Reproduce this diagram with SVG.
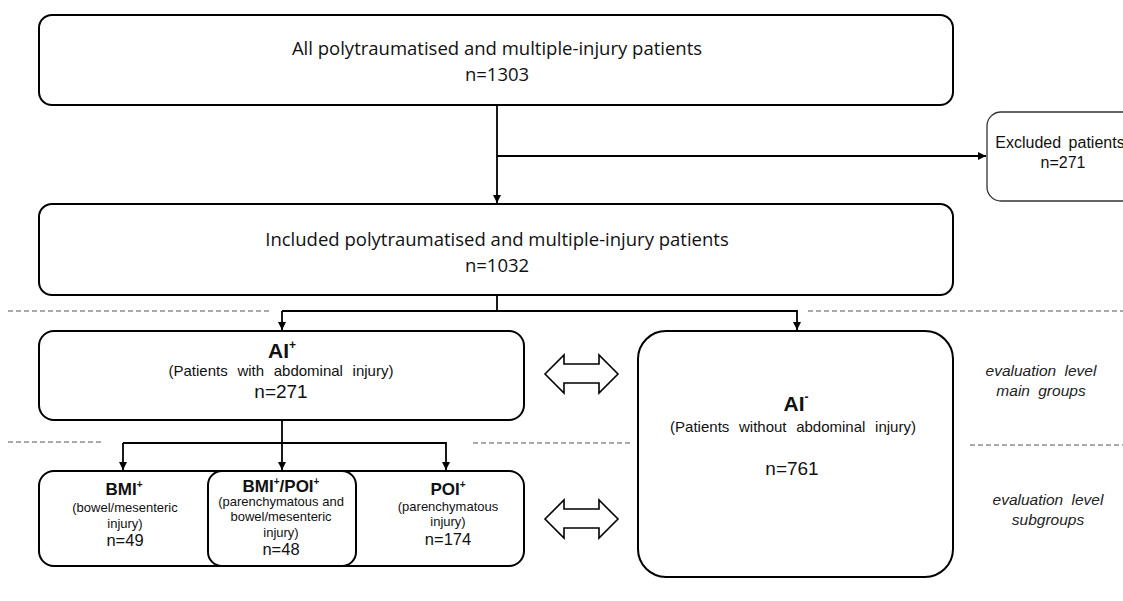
<svg xmlns="http://www.w3.org/2000/svg" width="1123" height="601" viewBox="0 0 1123 601">
<style>
.box{fill:#fff;stroke:#000;stroke-width:2}
.exbox{fill:#fff;stroke:#333;stroke-width:1.3}
.conn{fill:none;stroke:#000;stroke-width:1.8}
.dash{fill:none;stroke:#555;stroke-width:1.2;stroke-dasharray:5 3}
.dbl{fill:#fff;stroke:#000;stroke-width:1.6;stroke-linejoin:miter}
.cal{font-family:"Open Sans","Noto Sans",sans-serif;font-size:18.5px;fill:#111;text-anchor:middle}
.ar{font-family:"Liberation Sans",Arial,sans-serif;fill:#111;text-anchor:middle}
.big{font-size:19px}
.bold{font-weight:bold}
.sub{font-size:15px;word-spacing:5.5px}
.sm{font-size:13px}
.nn{font-size:16.5px}
.it{font-family:"Liberation Sans",Arial,sans-serif;font-style:italic;font-size:15.5px;word-spacing:4px;fill:#222;text-anchor:middle}
.ex{font-size:16px;word-spacing:3px}
</style>
<defs>
<marker id="ah" viewBox="0 0 10 10" refX="10" refY="5" markerWidth="8" markerHeight="8" markerUnits="userSpaceOnUse" orient="auto">
<path d="M0,0 L10,5 L0,10 z" fill="#000"/>
</marker>
</defs>

<g id="dashes">
<line class="dash" x1="8" y1="311" x2="272" y2="311"/>
<line class="dash" x1="808" y1="311" x2="1123" y2="311"/>
<line class="dash" x1="8" y1="442" x2="102" y2="442"/>
<line class="dash" x1="473" y1="443" x2="630" y2="443"/>
<line class="dash" x1="970" y1="445" x2="1123" y2="445"/>
</g>

<g id="connectors">
<line class="conn" x1="497" y1="105" x2="497" y2="203" marker-end="url(#ah)"/>
<line class="conn" x1="497" y1="156" x2="986" y2="156" marker-end="url(#ah)"/>
<line class="conn" x1="497" y1="295" x2="497" y2="311"/>
<polyline class="conn" points="282,311 797,311 797,330" marker-end="url(#ah)"/>
<line class="conn" x1="282" y1="311" x2="282" y2="330" marker-end="url(#ah)"/>
<line class="conn" x1="282" y1="420" x2="282" y2="470" marker-end="url(#ah)"/>
<polyline class="conn" points="123,443 446,443 446,470" marker-end="url(#ah)"/>
<line class="conn" x1="123" y1="443" x2="123" y2="470" marker-end="url(#ah)"/>
<path class="dbl" d="M545,374 L564,355 L564,364 L599,364 L599,355 L618,374 L599,393 L599,383 L564,383 L564,393 Z"/>
<path class="dbl" d="M545,519 L564,500 L564,509 L599,509 L599,500 L618,519 L599,538 L599,528 L564,528 L564,538 Z"/>
</g>

<g id="all">
<rect class="box" x="39" y="15" width="914" height="90" rx="13"/>
<text class="cal" x="497" y="55">All polytraumatised and multiple-injury patients</text>
<text class="cal" x="497" y="81">n=1303</text>
</g>

<g id="excluded">
<rect class="exbox" x="987" y="112" width="160" height="89" rx="14"/>
<text class="ar ex" x="1060" y="148">Excluded patients</text>
<text class="ar ex" x="1063" y="168">n=271</text>
</g>

<g id="included">
<rect class="box" x="39" y="204" width="914" height="91" rx="13"/>
<text class="cal" x="497" y="246">Included polytraumatised and multiple-injury patients</text>
<text class="cal" x="497" y="272">n=1032</text>
</g>

<g id="aiplus">
<rect class="box" x="39" y="331" width="485" height="89" rx="15"/>
<text class="ar bold" font-size="21" x="282" y="358">AI<tspan font-size="12" dy="-9">+</tspan></text>
<text class="ar sub" x="281" y="376">(Patients with abdominal injury)</text>
<text class="ar big" x="281" y="398">n=271</text>
</g>

<g id="aiminus">
<rect class="box" x="638" y="331" width="315" height="246" rx="28"/>
<text class="ar bold" font-size="21" x="796" y="411">AI<tspan font-size="12" dy="-10">-</tspan></text>
<text class="ar sub" x="793" y="432">(Patients without abdominal injury)</text>
<text class="ar big" x="792" y="475">n=761</text>
</g>

<g id="subgroups">
<rect class="box" x="39" y="471" width="485" height="95" rx="15"/>
<text class="ar bold" font-size="17" x="124" y="495">BMI<tspan font-size="10" dy="-7">+</tspan></text>
<text class="ar sm" x="125" y="512">(bowel/mesenteric</text>
<text class="ar sm" x="125" y="528">injury)</text>
<text class="ar nn" x="125" y="546">n=49</text>
<text class="ar bold" font-size="17" x="448" y="495">POI<tspan font-size="10" dy="-7">+</tspan></text>
<text class="ar sm" x="448" y="511">(parenchymatous</text>
<text class="ar sm" x="448" y="526">injury)</text>
<text class="ar nn" x="448" y="545">n=174</text>
</g>

<g id="bmipoi">
<rect class="box" x="208" y="471" width="148" height="95" rx="14"/>
<text class="ar bold" font-size="17" x="281" y="492">BMI<tspan font-size="10" dy="-7">+</tspan><tspan dy="7">/POI</tspan><tspan font-size="10" dy="-7">+</tspan></text>
<text class="ar sm" x="281" y="506">(parenchymatous and</text>
<text class="ar sm" x="281" y="521">bowel/mesenteric</text>
<text class="ar sm" x="281" y="537">injury)</text>
<text class="ar nn" x="281" y="555">n=48</text>
</g>

<g id="labels">
<text class="it" x="1041" y="376">evaluation level</text>
<text class="it" x="1041" y="396">main groups</text>
<text class="it" x="1048" y="505">evaluation level</text>
<text class="it" x="1048" y="525">subgroups</text>
</g>
</svg>
